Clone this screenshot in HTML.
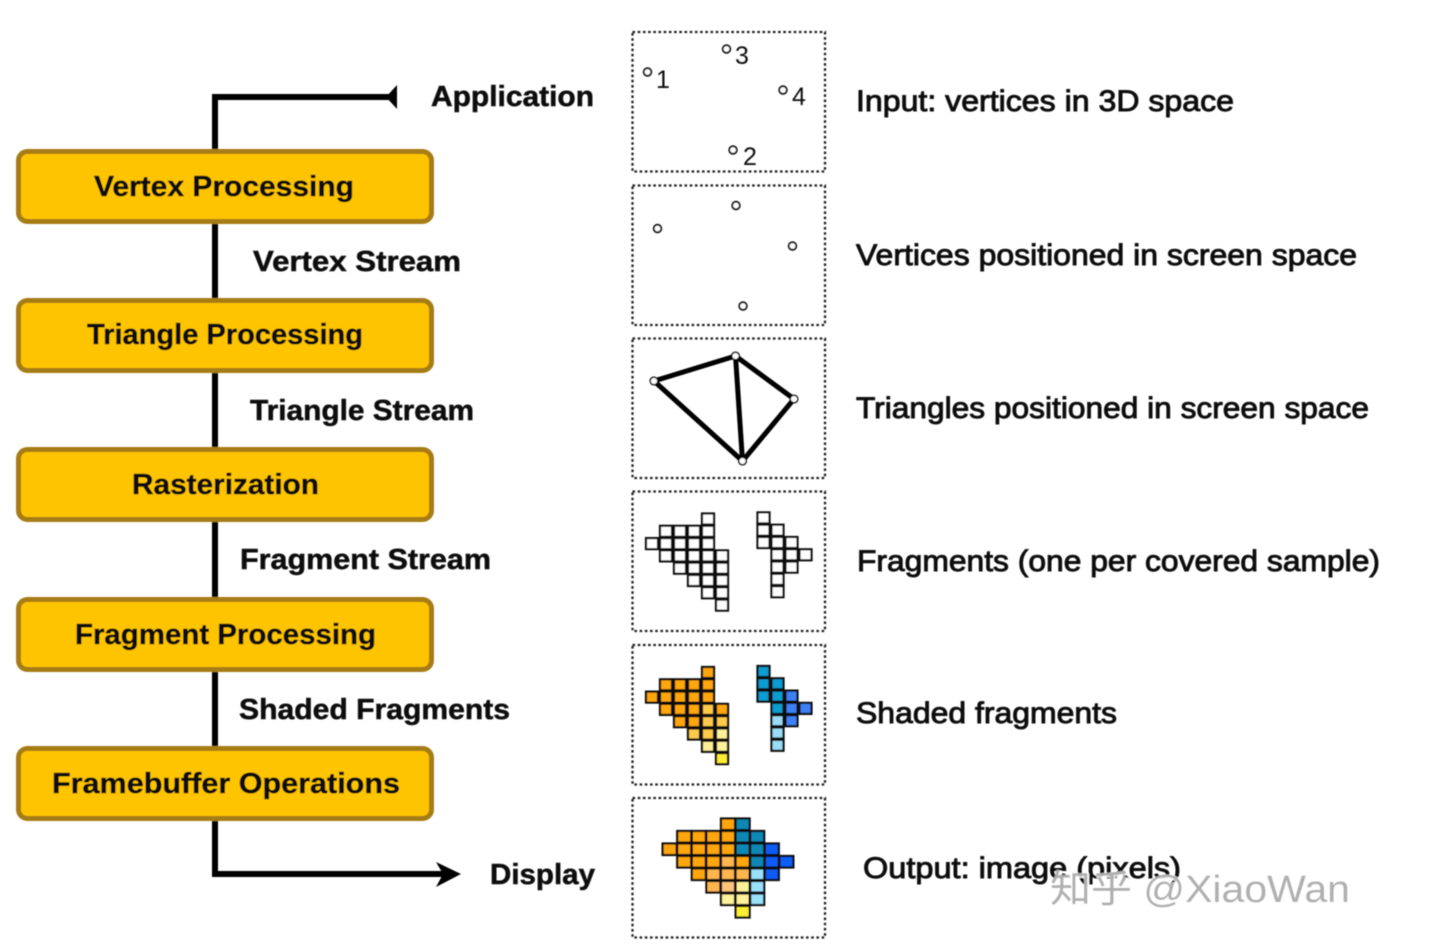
<!DOCTYPE html>
<html><head><meta charset="utf-8"><style>
html,body{margin:0;padding:0;background:#fff}
svg{display:block}
text{font-family:"Liberation Sans","Noto Sans CJK SC",sans-serif;fill:#0a0a0a}
.b{font-weight:700;font-size:29px;stroke:#0a0a0a;stroke-width:.5px}
.m{font-size:30px;stroke:#0a0a0a;stroke-width:.9px}
.n{font-size:25px;fill:#111}
.p{fill:none;stroke:#222;stroke-width:2.3;stroke-dasharray:2.6 2.6}
.box{fill:#ffc400;stroke:#a67c12;stroke-width:5}
.v{fill:#fff;stroke:#111;stroke-width:2.2}
.g{stroke:#111;stroke-width:2.2}
.s{stroke:#111;stroke-width:2.2}
.o{fill:#ffa50a}.y{fill:#ffc840}.l{fill:#ffc94a}.w{fill:#fff09a}.k{fill:#ffee33}
.t{fill:#0d9ccf}.u{fill:#3d80f5}.i{fill:#9adcf8}
.T{fill:#0a88b4}.U{fill:#0a5cf5}.I{fill:#99e0fb}.Y{fill:#ffb64f}.Z{fill:#ffc47a}.W{fill:#fff29a}
</style></head><body>
<svg width="1436" height="944" viewBox="0 0 1436 944" xmlns="http://www.w3.org/2000/svg">
<defs><rect id="c" width="12" height="11"/><rect id="d" width="14" height="11.5"/>
<filter id="soft" filterUnits="userSpaceOnUse" x="0" y="0" width="1436" height="944"><feGaussianBlur stdDeviation="0.45"/></filter></defs>
<g filter="url(#soft)">

<path d="M215 820V97H390" fill="none" stroke="#000" stroke-width="6"/>
<path d="M397 85V109L386 97Z" fill="#000"/>
<path d="M215 820V874H445" fill="none" stroke="#000" stroke-width="6"/>
<path d="M461 874L436 862L443 874L436 887Z" fill="#000"/>

<rect class="box" x="18.500" y="151.500" width="413" height="70" rx="9"/>
<rect class="box" x="18.500" y="300.500" width="413" height="70" rx="9"/>
<rect class="box" x="18.500" y="449.500" width="413" height="70" rx="9"/>
<rect class="box" x="18.500" y="599.500" width="413" height="70" rx="9"/>
<rect class="box" x="18.500" y="748.500" width="413" height="70" rx="9"/>

<text class="b" x="94" y="196" textLength="260" lengthAdjust="spacingAndGlyphs">Vertex Processing</text>
<text class="b" x="87" y="344" textLength="276" lengthAdjust="spacingAndGlyphs">Triangle Processing</text>
<text class="b" x="132" y="494" textLength="187" lengthAdjust="spacingAndGlyphs">Rasterization</text>
<text class="b" x="75" y="644" textLength="301" lengthAdjust="spacingAndGlyphs">Fragment Processing</text>
<text class="b" x="52" y="793" textLength="348" lengthAdjust="spacingAndGlyphs">Framebuffer Operations</text>

<text class="b" x="431" y="106" textLength="163" lengthAdjust="spacingAndGlyphs">Application</text>
<text class="b" x="253" y="271" textLength="208" lengthAdjust="spacingAndGlyphs">Vertex Stream</text>
<text class="b" x="250" y="420" textLength="224" lengthAdjust="spacingAndGlyphs">Triangle Stream</text>
<text class="b" x="240" y="569" textLength="251" lengthAdjust="spacingAndGlyphs">Fragment Stream</text>
<text class="b" x="239" y="719" textLength="271" lengthAdjust="spacingAndGlyphs">Shaded Fragments</text>
<text class="b" x="490" y="884" textLength="105" lengthAdjust="spacingAndGlyphs">Display</text>

<rect class="p" x="632.500" y="32" width="192.500" height="139.500"/>
<rect class="p" x="632.500" y="185.500" width="192.500" height="139.500"/>
<rect class="p" x="632.500" y="338.500" width="192.500" height="139.500"/>
<rect class="p" x="632.500" y="491.500" width="192.500" height="139.500"/>
<rect class="p" x="632.500" y="645" width="192.500" height="139.500"/>
<rect class="p" x="632.500" y="798" width="192.500" height="139.500"/>

<g fill="#fff" stroke="#111" stroke-width="1.800">
<circle cx="647.500" cy="72" r="3.800"/><circle cx="726.500" cy="49" r="3.800"/><circle cx="783" cy="90" r="3.800"/><circle cx="733" cy="150" r="3.800"/>
<circle cx="657.500" cy="228.500" r="3.800"/><circle cx="736" cy="205.500" r="3.800"/><circle cx="792.500" cy="246" r="3.800"/><circle cx="743" cy="306" r="3.800"/>
</g>
<text class="n" x="656" y="88">1</text>
<text class="n" x="735" y="64">3</text>
<text class="n" x="792" y="105">4</text>
<text class="n" x="743" y="165">2</text>

<g stroke="#000" stroke-width="5" fill="none">
<path d="M654 381L735.500 356L794 399L742.500 461Z"/><path d="M735.500 356L742.500 461"/>
</g>
<g fill="#fff" stroke="#111" stroke-width="1.500">
<circle cx="654" cy="381" r="3.800"/><circle cx="735.500" cy="356" r="3.800"/><circle cx="794" cy="399" r="3.800"/><circle cx="742.500" cy="461" r="3.800"/>
</g>

<!-- fragments -->
<g class="v">
<use href="#c" x="702" y="513.500"/>
<use href="#c" x="660" y="525.800"/><use href="#c" x="674" y="525.800"/><use href="#c" x="688" y="525.800"/><use href="#c" x="702" y="525.800"/>
<use href="#c" x="646" y="538.100"/><use href="#c" x="660" y="538.100"/><use href="#c" x="674" y="538.100"/><use href="#c" x="688" y="538.100"/><use href="#c" x="702" y="538.100"/>
<use href="#c" x="660" y="550.400"/><use href="#c" x="674" y="550.400"/><use href="#c" x="688" y="550.400"/><use href="#c" x="702" y="550.400"/><use href="#c" x="716" y="550.400"/>
<use href="#c" x="674" y="562.700"/><use href="#c" x="688" y="562.700"/><use href="#c" x="702" y="562.700"/><use href="#c" x="716" y="562.700"/>
<use href="#c" x="688" y="575"/><use href="#c" x="702" y="575"/><use href="#c" x="716" y="575"/>
<use href="#c" x="702" y="587.300"/><use href="#c" x="716" y="587.300"/>
<use href="#c" x="716" y="599.600"/>
<use href="#c" x="757.500" y="512.400"/>
<use href="#c" x="757.500" y="524.700"/><use href="#c" x="771.500" y="524.700"/>
<use href="#c" x="757.500" y="537"/><use href="#c" x="771.500" y="537"/><use href="#c" x="785.500" y="537"/>
<use href="#c" x="771.500" y="549.300"/><use href="#c" x="785.500" y="549.300"/><use href="#c" x="799.500" y="549.300"/>
<use href="#c" x="771.500" y="561.600"/><use href="#c" x="785.500" y="561.600"/>
<use href="#c" x="771.500" y="573.900"/>
<use href="#c" x="771.500" y="586.200"/>
</g>

<!-- shaded -->
<g class="g">
<use class="o" href="#c" x="702" y="667"/>
<use class="o" href="#c" x="660" y="679.300"/><use class="o" href="#c" x="674" y="679.300"/><use class="o" href="#c" x="688" y="679.300"/><use class="o" href="#c" x="702" y="679.300"/>
<use class="o" href="#c" x="646" y="691.600"/><use class="o" href="#c" x="660" y="691.600"/><use class="o" href="#c" x="674" y="691.600"/><use class="o" href="#c" x="688" y="691.600"/><use class="o" href="#c" x="702" y="691.600"/>
<use class="o" href="#c" x="660" y="703.900"/><use class="o" href="#c" x="674" y="703.900"/><use class="o" href="#c" x="688" y="703.900"/><use class="l" href="#c" x="702" y="703.900"/><use class="o" href="#c" x="716" y="703.900"/>
<use class="o" href="#c" x="674" y="716.200"/><use class="o" href="#c" x="688" y="716.200"/><use class="l" href="#c" x="702" y="716.200"/><use class="l" href="#c" x="716" y="716.200"/>
<use class="l" href="#c" x="688" y="728.500"/><use class="l" href="#c" x="702" y="728.500"/><use class="w" href="#c" x="716" y="728.500"/>
<use class="w" href="#c" x="702" y="740.800"/><use class="w" href="#c" x="716" y="740.800"/>
<use class="k" href="#c" x="716" y="753.100"/>
<use class="t" href="#c" x="757.500" y="666"/>
<use class="t" href="#c" x="757.500" y="678.300"/><use class="t" href="#c" x="771.500" y="678.300"/>
<use class="t" href="#c" x="757.500" y="690.600"/><use class="t" href="#c" x="771.500" y="690.600"/><use class="u" href="#c" x="785.500" y="690.600"/>
<use class="t" href="#c" x="771.500" y="702.900"/><use class="u" href="#c" x="785.500" y="702.900"/><use class="u" href="#c" x="799.500" y="702.900"/>
<use class="i" href="#c" x="771.500" y="715.200"/><use class="u" href="#c" x="785.500" y="715.200"/>
<use class="i" href="#c" x="771.500" y="727.500"/>
<use class="i" href="#c" x="771.500" y="739.800"/>
</g>

<!-- output -->
<g class="s">
<use class="o" href="#d" x="721" y="818.500"/><use class="T" href="#d" x="735.600" y="818.500"/>
<use class="o" href="#d" x="677.200" y="831"/><use class="o" href="#d" x="691.800" y="831"/><use class="o" href="#d" x="706.400" y="831"/><use class="o" href="#d" x="721" y="831"/><use class="T" href="#d" x="735.600" y="831"/><use class="T" href="#d" x="750.200" y="831"/>
<use class="o" href="#d" x="662.600" y="843.500"/><use class="o" href="#d" x="677.200" y="843.500"/><use class="o" href="#d" x="691.800" y="843.500"/><use class="o" href="#d" x="706.400" y="843.500"/><use class="o" href="#d" x="721" y="843.500"/><use class="T" href="#d" x="735.600" y="843.500"/><use class="T" href="#d" x="750.200" y="843.500"/><use class="U" href="#d" x="764.800" y="843.500"/>
<use class="o" href="#d" x="677.200" y="856"/><use class="o" href="#d" x="691.800" y="856"/><use class="o" href="#d" x="706.400" y="856"/><use class="Y" href="#d" x="721" y="856"/><use class="o" href="#d" x="735.600" y="856"/><use class="T" href="#d" x="750.200" y="856"/><use class="U" href="#d" x="764.800" y="856"/><use class="U" href="#d" x="779.400" y="856"/>
<use class="o" href="#d" x="691.800" y="868.500"/><use class="Y" href="#d" x="706.400" y="868.500"/><use class="Y" href="#d" x="721" y="868.500"/><use class="Y" href="#d" x="735.600" y="868.500"/><use class="I" href="#d" x="750.200" y="868.500"/><use class="U" href="#d" x="764.800" y="868.500"/>
<use class="Y" href="#d" x="706.400" y="881"/><use class="Z" href="#d" x="721" y="881"/><use class="W" href="#d" x="735.600" y="881"/><use class="I" href="#d" x="750.200" y="881"/>
<use class="W" href="#d" x="721" y="893.500"/><use class="W" href="#d" x="735.600" y="893.500"/><use class="I" href="#d" x="750.200" y="893.500"/>
<use class="k" href="#d" x="735.600" y="906"/>
</g>

<text class="m" x="856" y="111" textLength="378" lengthAdjust="spacingAndGlyphs">Input: vertices in 3D space</text>
<text class="m" x="856" y="265" textLength="501" lengthAdjust="spacingAndGlyphs">Vertices positioned in screen space</text>
<text class="m" x="856" y="418" textLength="513" lengthAdjust="spacingAndGlyphs">Triangles positioned in screen space</text>
<text class="m" x="857" y="571" textLength="523" lengthAdjust="spacingAndGlyphs">Fragments (one per covered sample)</text>
<text class="m" x="856" y="723" textLength="261" lengthAdjust="spacingAndGlyphs">Shaded fragments</text>
<text class="m" x="863" y="878" textLength="318" lengthAdjust="spacingAndGlyphs">Output: image (pixels)</text>

<text x="1051" y="903" textLength="300" lengthAdjust="spacingAndGlyphs" style="font-size:38px;fill:#fff;stroke:#fff;stroke-width:2px" opacity=".85">知乎 @XiaoWan</text>
<text x="1050" y="902" textLength="300" lengthAdjust="spacingAndGlyphs" style="font-size:38px;fill:#a8a8a8" opacity=".9">知乎 @XiaoWan</text>
</g>
</svg>
</body></html>
